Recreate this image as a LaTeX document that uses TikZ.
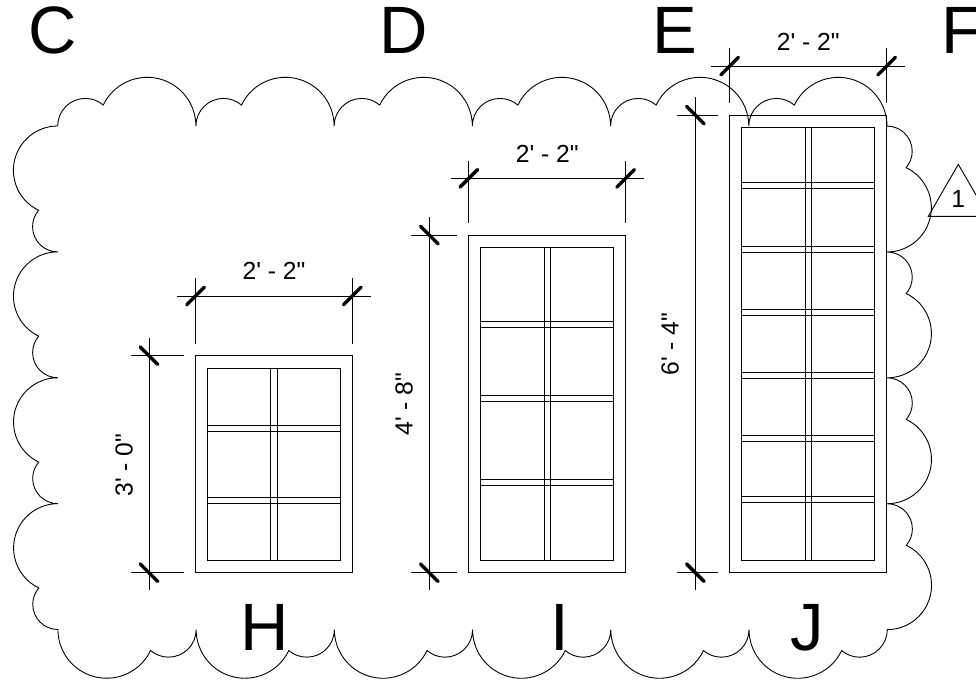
\documentclass[tikz,border=0pt]{standalone}
\usepackage{fontspec}
\newfontfamily\plansans{Liberation Sans}

\tikzset{
  thinline/.style={line width=0.9pt, black},
  tickmark/.style={line width=3.4pt, line cap=round, black},
  dimtext/.style={inner sep=0pt, anchor=base, font=\plansans\fontsize{24.7}{28}\selectfont},
  gridletter/.style={inner sep=0pt, anchor=base, font=\plansans\fontsize{67}{70}\selectfont}
}

\begin{document}
\begin{tikzpicture}[x=1pt, y=-1pt]
        \useasboundingbox (0,0) rectangle (976,681);

        % Revision cloud
        \draw[thinline] (57.7,126)
          \foreach \a/\n/\sr/\lr in {0/6/27.6/48.7, 90/4/25.2/44.3, 180/6/27.6/48.7, 270/4/25.2/44.3} {
            \foreach \i in {1,...,\n} {
              arc[start angle=\a-180, end angle=\a-49.4, radius=\sr]
              arc[start angle=\a-154.5, end angle=\a, radius=\lr]
            }
          };

        % Window H
        \draw[thinline] (195.5,355.7) rectangle (352.3,572.7);
        \draw[thinline] (207.5,368) rectangle (340.5,560.7);
        \foreach \x in {270.7,277.3} \draw[thinline] (\x,368) -- (\x,560.7);
        \foreach \y in {425.7,431.3,497.3,503.3} \draw[thinline] (207.5,\y) -- (340.5,\y);

        % Window I
        \draw[thinline] (468.8,235) rectangle (625.7,572.7);
        \draw[thinline] (480.7,247.3) rectangle (613.3,560.7);
        \foreach \x in {544.3,550.7} \draw[thinline] (\x,247.3) -- (\x,560.7);
        \foreach \y in {321.3,327.3,395,401.3,479.3,485.3} \draw[thinline] (480.7,\y) -- (613.3,\y);

        % Window J
        \draw[thinline] (729.7,115) rectangle (886.7,572.7);
        \draw[thinline] (741.7,127) rectangle (874.3,560.7);
        \foreach \x in {805,811.3} \draw[thinline] (\x,127) -- (\x,560.7);
        \foreach \y in {182.7,188.7,246,252,309.7,315.3,372.3,378.7,435.7,441.7,496,502.3}
          \draw[thinline] (741.7,\y) -- (874.3,\y);

        % Width dimensions
        \foreach \xa/\xb/\y/\ya/\yb in {195.5/352.3/296/278.3/344, 468.8/625.7/178.3/160.5/223.3, 729.7/886.7/66/48.3/102.7} {
          \draw[thinline] (\xa-18.3,\y) -- (\xb+18.3,\y);
          \draw[thinline] (\xa,\ya) -- (\xa,\yb);
          \draw[thinline] (\xb,\ya) -- (\xb,\yb);
          \draw[tickmark] (\xa-8.8,\y+8.8) -- (\xa+8.8,\y-8.8);
          \draw[tickmark] (\xb-8.8,\y+8.8) -- (\xb+8.8,\y-8.8);
        }
        \node[dimtext] (widthh) at (274,279) {2' - 2"};
        \node[dimtext] (widthi) at (547.3,162.7) {2' - 2"};
        \node[dimtext] (widthj) at (808.3,50.7) {2' - 2"};

        % Height dimensions
        \foreach \x/\ya/\yb/\xa/\xb in {149/355.7/572.7/130.7/184, 429.3/235/572.7/411/457, 695.3/115/572.7/677/718} {
          \draw[thinline] (\x,\ya-18) -- (\x,\yb+17);
          \draw[thinline] (\xa,\ya) -- (\xb,\ya);
          \draw[thinline] (\xa,\yb) -- (\xb,\yb);
          \draw[tickmark] (\x-8.8,\ya-8.8) -- (\x+8.8,\ya+8.8);
          \draw[tickmark] (\x-8.8,\yb-8.8) -- (\x+8.8,\yb+8.8);
        }
        \node[dimtext, rotate=90] (heighth) at (132.7,465) {3' - 0"};
        \node[dimtext, rotate=90] (heighti) at (412.7,404) {4' - 8"};
        \node[dimtext, rotate=90] (heightj) at (678.5,344) {6' - 4"};

        % Revision tag
        \draw[thinline] (976,195) -- (958.3,164.3) -- (928.3,216.3) -- (976,216.3);
        \node[dimtext] (revtag) at (958.2,207) {1};

        % Grid letters
        \node[gridletter] (gridc) at (52.5,53.3) {C};
        \node[gridletter] (gridd) at (404,53.3) {D};
        \node[gridletter] (grida) at (675,53.3) {E};
        \node[gridletter] (gridf) at (962,53.3) {F};
        \node[gridletter] (gridh) at (265,650) {H};
        \node[gridletter] (gridi) at (559.3,650) {I};
        \node[gridletter] (gridj) at (807.5,650) {J};
\end{tikzpicture}
\end{document}
